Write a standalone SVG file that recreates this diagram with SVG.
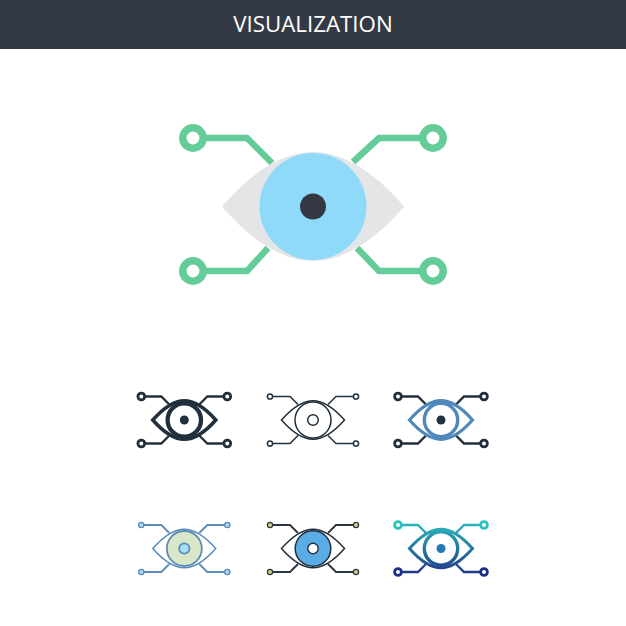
<svg xmlns="http://www.w3.org/2000/svg" width="626" height="626" viewBox="0 0 626 626">
<style>
.title{font-family:"Open Sans","Liberation Sans",sans-serif;font-size:22.300px;fill:#fff;text-anchor:middle}
</style>
<defs>
<path id="almond" d="M-31.500 0C-24 -8.500 -12 -19.300 0 -19.300C12 -19.300 24 -8.500 31.500 0C24 8.500 12 19.300 0 19.300C-12 19.300 -24 8.500 -31.500 0Z"/>
<path id="wires" fill="none" d="M-41 -23.500H-23L-15 -15.500M41 -23.500H23L15 -15.500M-41 23.500H-23L-15 15.500M41 23.500H23L15 15.500"/>
<g id="nodes">
<circle cx="-43" cy="-23.500" r="3.400"/><circle cx="43" cy="-23.500" r="3.400"/><circle cx="-43" cy="23.500" r="3.400"/><circle cx="43" cy="23.500" r="3.400"/>
</g>
<g id="nodes-small">
<circle cx="-43" cy="-23.500" r="2.600"/><circle cx="43" cy="-23.500" r="2.600"/><circle cx="-43" cy="23.500" r="2.600"/><circle cx="43" cy="23.500" r="2.600"/>
</g>
<linearGradient id="grad" gradientUnits="userSpaceOnUse" x1="0" y1="-28" x2="0" y2="28">
<stop offset="0" stop-color="#2cc0bd"/><stop offset="1" stop-color="#1f2f86"/>
</linearGradient>
</defs>
<rect id="header" width="626" height="49" fill="#343a44"/>
<text class="title" x="313" y="31.500">VISUALIZATION</text>

<g id="icon-main">
<g id="main-connectors" fill="none" stroke="#64cc99" stroke-width="6.500">
<path d="M205 138H247L272 163M421 138H379L353 162M205 271H247L268 248M421 271H379L357 248"/>
</g>
<g id="main-nodes" fill="#fff" stroke="#64cc99" stroke-width="7.500">
<circle cx="193" cy="138" r="10.200"/><circle cx="433" cy="138" r="10.200"/><circle cx="193" cy="271" r="10.200"/><circle cx="433" cy="271" r="10.200"/>
</g>
<path fill="#e4e5e7" d="M222 206.500C248 176 280 152 313 152C346 152 378 176 404 206.500C378 237 346 261 313 261C280 261 248 237 222 206.500Z"/>
<circle cx="313" cy="206.500" r="53.500" fill="#8fdaf9"/>
<circle cx="313" cy="206.500" r="13" fill="#333842"/>
</g>

<g id="icon-1" transform="translate(184.300 420)">
<use href="#wires" stroke="#22303d" stroke-width="2.400"/>
<use href="#nodes" fill="#fff" stroke="#22303d" stroke-width="2.800"/>
<use href="#almond" fill="none" stroke="#22303d" stroke-width="3.600"/>
<circle r="16.700" fill="#fff" stroke="#22303d" stroke-width="4.300"/>
<circle r="4.500" fill="#22303d"/>
</g>

<g id="icon-2" transform="translate(313 420)">
<use href="#wires" stroke="#22303d" stroke-width="1.500"/>
<use href="#nodes-small" fill="#fff" stroke="#22303d" stroke-width="1.500"/>
<use href="#almond" fill="none" stroke="#22303d" stroke-width="1.500"/>
<circle r="18" fill="#fff" stroke="#22303d" stroke-width="1.500"/>
<circle r="5.300" fill="#fff" stroke="#22303d" stroke-width="1.500"/>
</g>

<g id="icon-3" transform="translate(441 420)">
<use href="#wires" stroke="#22303d" stroke-width="2.400"/>
<use href="#nodes" fill="#fff" stroke="#22303d" stroke-width="2.800"/>
<use href="#almond" fill="none" stroke="#5088bb" stroke-width="3.200"/>
<circle r="16.700" fill="#fff" stroke="#5088bb" stroke-width="3.400"/>
<circle r="4.500" fill="#22303d"/>
</g>

<g id="icon-4" transform="translate(184.300 548.500)">
<use href="#wires" stroke="#5b8cb8" stroke-width="1.800"/>
<use href="#nodes-small" fill="#a8def6" stroke="#5b8cb8" stroke-width="1.400"/>
<use href="#almond" fill="none" stroke="#5b8cb8" stroke-width="1.500"/>
<circle r="17.500" fill="#d9e7c9" stroke="#5b8cb8" stroke-width="1.800"/>
<circle r="5.200" fill="#a8def6" stroke="#5b8cb8" stroke-width="1.700"/>
</g>

<g id="icon-5" transform="translate(313 548.500)">
<use href="#wires" stroke="#2a3540" stroke-width="1.800"/>
<use href="#nodes-small" fill="#d3d07f" stroke="#2a3540" stroke-width="1.200"/>
<use href="#almond" fill="none" stroke="#22303d" stroke-width="1.500"/>
<circle r="17.800" fill="#5aade4" stroke="#22303d" stroke-width="1.500"/>
<circle r="5.200" fill="#fff" stroke="#22303d" stroke-width="1.400"/>
</g>

<g id="icon-6" transform="translate(441 548.500)">
<use href="#wires" stroke="url(#grad)" stroke-width="2.400"/>
<circle cx="-43" cy="-23.500" r="3.400" fill="#fff" stroke="#2cc0bd" stroke-width="2.800"/>
<circle cx="43" cy="-23.500" r="3.400" fill="#fff" stroke="#2cc0bd" stroke-width="2.800"/>
<circle cx="-43" cy="23.500" r="3.400" fill="#fff" stroke="#1f2f86" stroke-width="2.800"/>
<circle cx="43" cy="23.500" r="3.400" fill="#fff" stroke="#1f2f86" stroke-width="2.800"/>
<use href="#almond" fill="none" stroke="url(#grad)" stroke-width="3"/>
<circle r="16.700" fill="#fff" stroke="url(#grad)" stroke-width="3.400"/>
<circle r="4.500" fill="#2478b4"/>
</g>
</svg>
